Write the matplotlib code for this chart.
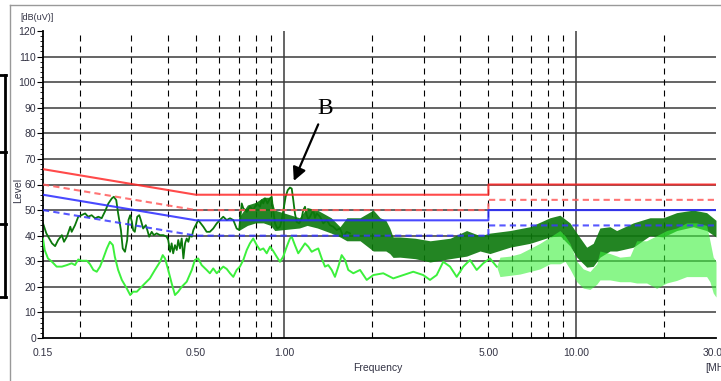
import numpy as np
import matplotlib
matplotlib.use('Agg')
import matplotlib.pyplot as plt
from matplotlib.lines import Line2D

# limit lines, MHz / dB(uV)
limitFreq = [0.15, 0.5, 5.0, 5.0, 30.0]
qpLimit = [66, 56, 56, 60, 60]
qpMargin = [60, 50, 50, 54, 54]
avLimit = [56, 46, 46, 50, 50]
avMargin = [50, 40, 40, 44, 44]

# peak trace (dark green)
peakFreq = [0.150, 0.154, 0.161, 0.165, 0.169, 0.174, 0.177, 0.181, 0.186, 0.188,
            0.193, 0.198, 0.203, 0.209, 0.214, 0.220, 0.226, 0.232, 0.238, 0.244,
            0.251, 0.258, 0.262, 0.267, 0.271, 0.277, 0.281, 0.286, 0.291, 0.294,
            0.298, 0.302, 0.305, 0.309, 0.315, 0.320, 0.324, 0.330, 0.337, 0.341,
            0.346, 0.353, 0.359, 0.367, 0.377, 0.387, 0.397, 0.402, 0.408, 0.413,
            0.418, 0.424, 0.430, 0.435, 0.441, 0.447, 0.453, 0.459, 0.465, 0.471,
            0.477, 0.484, 0.490, 0.496, 0.503, 0.509, 0.530, 0.544, 0.558, 0.573,
            0.589, 0.604, 0.620, 0.637, 0.654, 0.671, 0.689, 0.703, 0.717, 0.726,
            0.746, 0.765, 0.785, 0.807, 0.828, 0.839, 0.850, 0.861, 0.878, 0.896,
            0.908, 0.915, 0.932, 0.949, 0.969, 0.982, 1.000, 1.013, 1.030, 1.048,
            1.063, 1.076, 1.090, 1.105, 1.128, 1.149, 1.164, 1.180, 1.196, 1.211,
            1.227, 1.259, 1.276, 1.294, 1.328, 1.363, 1.400, 1.436, 1.474, 1.514,
            1.554, 1.595, 1.638, 1.681]
peakLevel = [44.8, 40.9, 37.0, 35.9, 38.3, 40.2, 37.6, 39.6, 43.5, 41.5,
             44.1, 47.4, 48.0, 48.7, 47.4, 48.0, 46.8, 47.4, 46.8, 49.3,
             52.6, 54.6, 55.2, 53.9, 48.7, 42.2, 35.0, 33.7, 38.3, 46.1,
             48.0, 45.4, 42.2, 41.5, 47.4, 48.0, 46.1, 42.8, 44.1, 42.2,
             39.6, 41.5, 40.2, 40.9, 40.2, 40.2, 39.6, 38.3, 33.7, 37.0,
             33.1, 36.3, 34.4, 38.3, 35.0, 38.9, 31.1, 37.0, 38.9, 37.6,
             40.2, 39.6, 42.2, 43.5, 44.8, 46.1, 43.5, 41.5, 41.5, 42.8,
             44.8, 46.1, 47.4, 46.1, 46.8, 46.1, 42.8, 42.2, 52.6, 50.7,
             49.3, 51.3, 50.0, 52.6, 51.3, 53.9, 52.6, 54.6, 52.6, 54.6,
             55.2, 51.3, 44.8, 42.8, 43.5, 46.1, 51.3, 55.2, 57.8, 58.8,
             58.4, 53.9, 48.7, 45.4, 44.8, 46.8, 50.0, 51.3, 48.0, 46.5,
             47.4, 50.0, 47.0, 48.7, 47.4, 44.8, 46.1, 44.1, 43.5, 42.2,
             42.8, 39.6, 41.5, 40.9]

# noisy spread of the peak trace
peakBandFreq = [0.70, 0.75, 0.80, 0.85, 0.90, 0.93, 1.13, 1.20, 1.30, 1.45,
                1.554, 1.64, 1.82, 2.02, 2.13, 2.23, 2.30, 2.36, 2.49, 2.81,
                3.16, 3.70, 4.21, 4.68, 5.06, 5.93, 6.94, 8.12, 8.78, 9.50,
                10.02, 10.84, 11.41, 12.03, 13.02, 13.72, 15.65, 17.84, 19.81, 22.01,
                25.08, 27.87, 30.0]
peakBandLow = [42, 44, 45, 45, 44, 42, 43, 44, 43, 41,
               39.5, 38, 38, 34, 34, 34, 33, 31.5, 31.6, 31,
               29.7, 31, 32, 34, 33, 35.5, 37, 39.5, 40, 36,
               31.6, 27.7, 28, 31.6, 34, 34, 35.5, 40, 39.5, 42,
               43.5, 42, 39.5]
peakBandHigh = [47, 52, 53, 55, 55, 50, 47, 51, 50, 47,
                43.5, 47, 47, 50, 47, 46, 43, 39.5, 39.5, 39,
                38, 39, 42, 40, 41, 42, 43.5, 47, 48, 45,
                41, 35.5, 37, 43, 43.5, 42, 45, 47, 47, 49,
                50, 49, 46]

# average trace (light green)
avgFreq = [0.150, 0.152, 0.156, 0.161, 0.167, 0.174, 0.181, 0.188, 0.193, 0.198,
           0.203, 0.212, 0.217, 0.223, 0.229, 0.235, 0.241, 0.248, 0.254, 0.260,
           0.264, 0.271, 0.279, 0.290, 0.298, 0.305, 0.314, 0.322, 0.335, 0.348,
           0.362, 0.377, 0.385, 0.392, 0.402, 0.413, 0.424, 0.435, 0.447, 0.465,
           0.484, 0.496, 0.509, 0.523, 0.544, 0.558, 0.573, 0.589, 0.604, 0.620,
           0.637, 0.654, 0.671, 0.689, 0.707, 0.726, 0.746, 0.765, 0.785, 0.807,
           0.828, 0.850, 0.873, 0.896, 0.919, 0.944, 0.969, 0.994, 1.022, 1.048,
           1.063, 1.090, 1.119, 1.149, 1.180, 1.211, 1.244, 1.276, 1.310, 1.346,
           1.381, 1.417, 1.456, 1.494, 1.534, 1.575, 1.617, 1.659, 1.726, 1.820,
           1.918, 2.020, 2.185, 2.364, 2.558, 2.767, 2.994, 3.157, 3.327, 3.504,
           3.696, 3.896, 4.103, 4.325, 4.559, 4.801, 5.061, 5.336]
avgLevel = [38.9, 34.4, 31.1, 29.8, 27.9, 27.9, 28.5, 29.2, 28.5, 30.7,
            30.2, 30.2, 28.9, 26.6, 25.9, 27.9, 31.1, 35.0, 37.6, 36.3,
            31.8, 26.6, 22.7, 19.4, 16.8, 18.1, 18.1, 19.4, 21.4, 23.3,
            26.6, 29.8, 32.4, 31.1, 26.6, 21.4, 16.8, 18.1, 20.0, 22.0,
            26.6, 30.5, 31.1, 28.5, 26.6, 25.3, 27.2, 25.3, 26.6, 27.9,
            27.0, 25.3, 23.9, 26.6, 27.9, 30.5, 34.4, 37.0, 38.9, 36.3,
            34.4, 35.0, 33.1, 35.7, 34.0, 31.8, 29.8, 31.8, 35.7, 38.9,
            39.6, 36.3, 33.1, 35.0, 37.0, 35.7, 33.7, 34.4, 35.0, 31.1,
            27.9, 28.5, 26.6, 23.9, 27.9, 32.4, 30.5, 26.6, 25.3, 26.6,
            22.7, 24.6, 25.3, 23.3, 24.6, 25.9, 24.6, 22.7, 24.6, 29.8,
            27.9, 23.9, 27.9, 30.5, 26.6, 29.2, 31.1, 27.9]

# spiky part of the average trace above 5 MHz
avgBandFreq = [5.336, 5.475, 5.93, 6.41, 6.94, 7.50, 8.12, 8.78, 9.14, 9.50,
               10.02, 10.55, 11.12, 11.73, 12.03, 13.02, 14.08, 15.24, 16.06, 17.37,
               18.80, 20.34, 22.01, 23.81, 25.77, 27.87, 28.6, 29.35, 30.0]
avgBandLow = [27.9, 24, 24.5, 25, 26, 27, 29, 29, 30, 27,
              22, 19.5, 19, 21, 22.7, 22.7, 22, 22, 21.5, 21.5,
              19.4, 21.5, 22.5, 24, 24, 24, 22, 17.6, 16]
avgBandHigh = [27.9, 31.6, 32, 33, 35, 37, 39.5, 42, 40, 37,
               30, 27, 26, 29, 34, 33, 31.6, 32, 38, 38,
               40, 42, 43, 45, 45, 44, 38, 31.6, 30]

yTicks = list(range(0, 121, 10))
xTickVals = [0.15, 0.5, 1.0, 5.0, 10.0, 30.0]
xTickLabels = ['0.15', '0.50', '1.00', '5.00', '10.00', '30.00']
solidGridFreq = [1.0, 10.0]
dashGridFreq = [0.2, 0.3, 0.4, 0.5, 0.6, 0.7, 0.8, 0.9, 2, 3, 4, 5, 6, 7, 8, 9, 20]

narrow = ['Liberation Sans Narrow', 'Liberation Sans', 'DejaVu Sans']
labelColor = '#333344'
darkGreen = '#0b780b'
lightGreen = '#3cf03c'

fig = plt.figure(figsize=(7.21, 3.81), dpi=100)
ax = fig.add_axes([43 / 721, 43 / 381, 673 / 721, 307 / 381])
ax.set_xscale('log')
ax.set_xlim(0.15, 30)
ax.set_ylim(0, 120)

# grid
for yVal in yTicks[1:-1]:
    ax.axhline(yVal, color='#3a3a3a', lw=1.1, zorder=1)
for fVal in solidGridFreq:
    ax.axvline(fVal, color='#3a3a3a', lw=1.1, zorder=1)
for fVal in dashGridFreq:
    ax.axvline(fVal, color='black', lw=0.8, ls=(0, (5.4, 4.5)), zorder=1)

# measured traces
ax.fill_between(peakBandFreq, peakBandLow, peakBandHigh, color=darkGreen, alpha=0.9, lw=0, zorder=2)
ax.plot(peakFreq, peakLevel, color=darkGreen, lw=1.3, zorder=2)
ax.fill_between(avgBandFreq, avgBandLow, avgBandHigh, color=lightGreen, alpha=0.6, lw=0, zorder=3)
ax.plot(avgFreq, avgLevel, color=lightGreen, lw=1.4, zorder=3)

# limits
ax.plot(limitFreq, qpLimit, color='#ff2a2a', lw=1.5, alpha=0.85, zorder=4)
ax.plot(limitFreq, qpMargin, color='#ff5c5c', lw=1.5, ls=(0, (3, 2)), alpha=0.85, zorder=4)
ax.plot(limitFreq, avLimit, color='#2a2aff', lw=1.5, alpha=0.85, zorder=4)
ax.plot(limitFreq, avMargin, color='#3a3aff', lw=1.5, ls=(0, (3, 2)), alpha=0.85, zorder=4)

# axes styling
for side in ['top', 'right']:
    ax.spines[side].set_visible(False)
ax.spines['left'].set_linewidth(1.3)
ax.spines['bottom'].set_linewidth(1.3)
ax.set_yticks(yTicks)
ax.set_yticks(list(range(0, 121, 2)), minor=True)
ax.set_xticks(xTickVals)
ax.set_xticklabels(xTickLabels)
ax.xaxis.set_minor_locator(matplotlib.ticker.NullLocator())
ax.tick_params(axis='y', which='major', length=4, width=0.8, pad=1, labelsize=7.5, labelcolor=labelColor)
ax.tick_params(axis='y', which='minor', length=2, width=0.6)
ax.tick_params(axis='x', which='major', length=0, pad=7, labelsize=7.5, labelcolor=labelColor)
for lbl in ax.get_xticklabels() + ax.get_yticklabels():
    lbl.set_family(narrow)

# annotation
ax.annotate('', xy=(1.071, 60.4), xytext=(1.321, 84.5),
            arrowprops=dict(arrowstyle='-|>', color='black', lw=1.6, mutation_scale=20),
            zorder=6, annotation_clip=False)
ax.text(1.381, 89.7, 'B', family='Liberation Serif', fontsize=17, ha='center', va='center', zorder=6)

# axis captions
fig.text(378 / 721, 1 - 368 / 381, 'Frequency', family=narrow, fontsize=7.5, color=labelColor, ha='center', va='center')
fig.text(705 / 721, 1 - 368 / 381, '[MHz]', family=narrow, fontsize=7.5, color=labelColor, ha='left', va='center')
fig.text(18 / 721, 1 - 190 / 381, 'Level', family=narrow, fontsize=7.5, color=labelColor, rotation=90, ha='center', va='center')
fig.text(37 / 721, 1 - 17 / 381, '[dB(uV)]', family=narrow, fontsize=6.5, color=labelColor, ha='center', va='center')

# outer frame and the cut-off boxes on the left edge
fig.add_artist(Line2D([10 / 721, 10 / 721], [0, 1 - 5 / 381], color='#999999', lw=1))
fig.add_artist(Line2D([10 / 721, 1], [1 - 5 / 381, 1 - 5 / 381], color='#999999', lw=1))
fig.add_artist(Line2D([5 / 721, 5 / 721], [1 - 75 / 381, 1 - 297 / 381], color='black', lw=2))
for yPix in [75, 152, 224, 297]:
    fig.add_artist(Line2D([0, 6 / 721], [1 - yPix / 381, 1 - yPix / 381], color='black', lw=2))

fig.savefig('out.png', dpi=100)
plt.close(fig)
